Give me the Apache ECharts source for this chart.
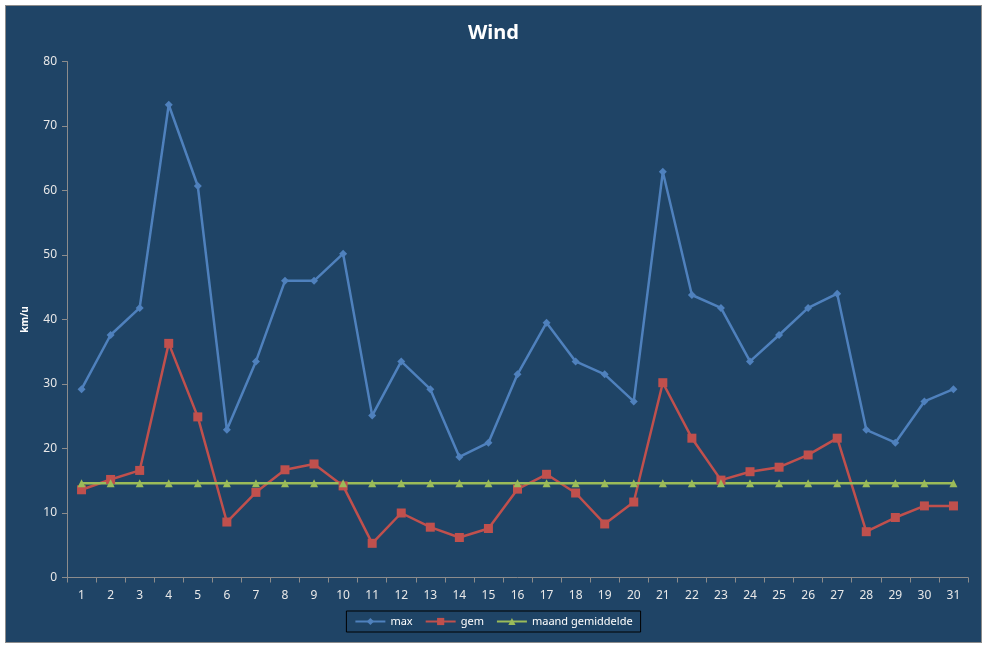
<!DOCTYPE html>
<html>
<head>
<meta charset="utf-8">
<script src="https://cdn.jsdelivr.net/npm/echarts@6/dist/echarts.min.js"></script>
<style>
  html, body { margin: 0; padding: 0; background: #ffffff; }
  #main {
    position: absolute; left: 5px; top: 5px;
    width: 977px; height: 638px;
    box-sizing: border-box;
    border: 1px solid #8c8c8c;
  }
</style>
</head>
<body>
<div id="main"></div>
<script>
// days of the month
const days = ['1','2','3','4','5','6','7','8','9','10','11','12','13','14','15','16',
  '17','18','19','20','21','22','23','24','25','26','27','28','29','30','31'];

// daily maximum wind (km/u)
const maxWind = [29.2, 37.6, 41.8, 73.3, 60.7, 22.9, 33.5, 46.0, 46.0, 50.2, 25.1, 33.5,
  29.2, 18.7, 20.9, 31.5, 39.5, 33.5, 31.5, 27.3, 62.9, 43.8, 41.8, 33.5, 37.6, 41.8,
  44.0, 22.9, 20.9, 27.3, 29.2];

// daily average wind (km/u)
const gemWind = [13.6, 15.2, 16.6, 36.3, 24.9, 8.6, 13.2, 16.7, 17.6, 14.2, 5.3, 10.0,
  7.8, 6.2, 7.6, 13.7, 16.0, 13.1, 8.3, 11.7, 30.2, 21.6, 15.1, 16.4, 17.1, 19.0,
  21.6, 7.1, 9.3, 11.1, 11.1];

// monthly average, same value every day
const maandGem = [14.6, 14.6, 14.6, 14.6, 14.6, 14.6, 14.6, 14.6, 14.6, 14.6, 14.6, 14.6,
  14.6, 14.6, 14.6, 14.6, 14.6, 14.6, 14.6, 14.6, 14.6, 14.6, 14.6, 14.6, 14.6, 14.6,
  14.6, 14.6, 14.6, 14.6, 14.6];

const font = 'Noto Sans';
const chart = echarts.init(document.getElementById('main'));

chart.setOption({
  animation: false,
  backgroundColor: '#1f4466',
  title: {
    text: 'Wind',
    left: 'center',
    top: 12,
    textStyle: { color: '#ffffff', fontSize: 20, fontWeight: 'bold', fontFamily: font }
  },
  legend: {
    left: 'center',
    top: 605,
    padding: [5, 8],
    borderColor: '#000000',
    borderWidth: 1,
    itemWidth: 30,
    itemHeight: 9,
    itemGap: 12,
    textStyle: { color: '#ffffff', fontSize: 11, fontFamily: font },
    data: ['max', 'gem', 'maand gemiddelde']
  },
  grid: { left: 61, right: 13, top: 55.5, bottom: 64.5 },
  xAxis: {
    type: 'category',
    data: days,
    boundaryGap: true,
    axisLine: { lineStyle: { color: '#8c8c8c', width: 1 } },
    axisTick: { show: true, length: 5, lineStyle: { color: '#8c8c8c' } },
    axisLabel: { color: '#e8e8e8', fontSize: 12, fontFamily: font, margin: 12 },
    splitLine: { show: false }
  },
  yAxis: {
    type: 'value',
    min: 0,
    max: 80,
    interval: 10,
    name: 'km/u',
    nameLocation: 'middle',
    nameGap: 37,
    nameTextStyle: { color: '#ffffff', fontSize: 10, fontWeight: 'bold', fontFamily: font },
    axisLine: { show: true, lineStyle: { color: '#8c8c8c', width: 1 } },
    axisTick: { show: true, length: 5, lineStyle: { color: '#8c8c8c' } },
    axisLabel: { color: '#e8e8e8', fontSize: 12, fontFamily: font, margin: 10 },
    splitLine: { show: false }
  },
  series: [
    {
      name: 'max',
      type: 'line',
      data: maxWind,
      symbol: 'diamond',
      symbolSize: 8,
      itemStyle: { color: '#4f81bd' },
      lineStyle: { color: '#4f81bd', width: 2.5 }
    },
    {
      name: 'gem',
      type: 'line',
      data: gemWind,
      symbol: 'rect',
      symbolSize: 9,
      itemStyle: { color: '#c0504d' },
      lineStyle: { color: '#c0504d', width: 2.5 }
    },
    {
      name: 'maand gemiddelde',
      type: 'line',
      data: maandGem,
      symbol: 'triangle',
      symbolSize: 8,
      itemStyle: { color: '#9bbb59' },
      lineStyle: { color: '#9bbb59', width: 2.5 }
    }
  ]
});
</script>
</body>
</html>
